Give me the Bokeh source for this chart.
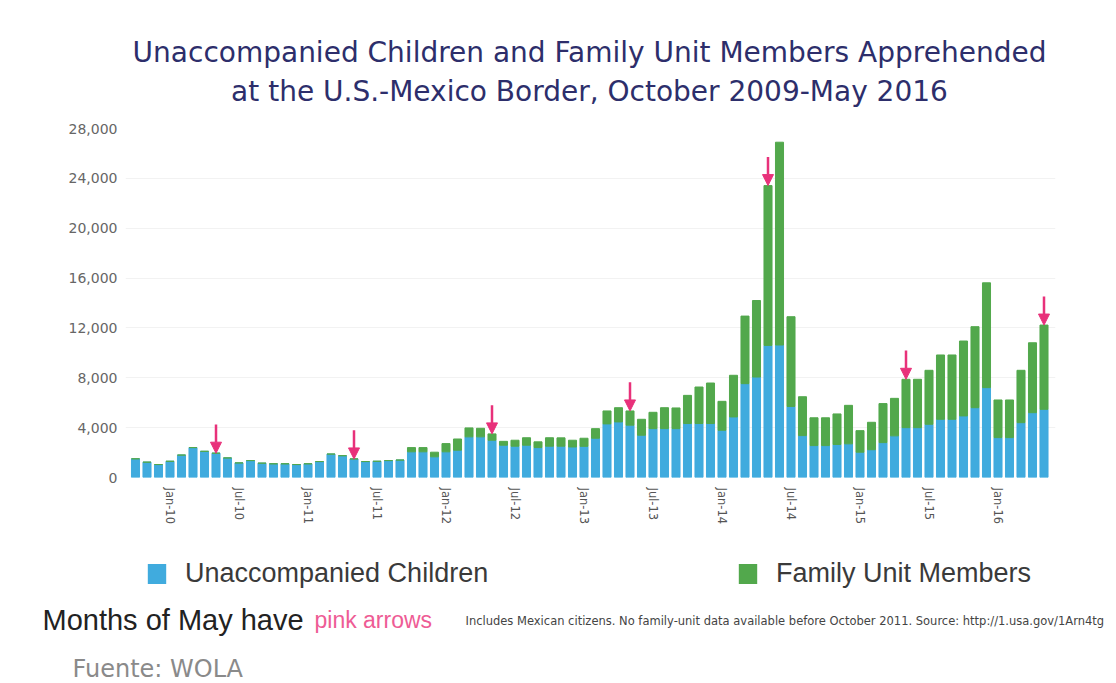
import pandas as pd
from bokeh.plotting import figure
from bokeh.layouts import column, row
from bokeh.models import (ColumnDataSource, Range1d, FixedTicker, NumeralTickFormatter,
                          Label, Legend, LegendItem, Arrow, NormalHead)
from bokeh.embed import file_html
from bokeh.resources import INLINE

# ---------------- data ----------------
months = [d.strftime("%b-%y") for d in pd.date_range("2009-10-01", "2016-05-01", freq="MS")]

unaccompanied_children = [
    1500, 1230, 1040, 1300, 1800, 2400, 2100, 1950, 1570, 1170, 1360, 1150,   # FY2010
    1100, 1100, 1040, 1100, 1280, 1880, 1750, 1490, 1280, 1300, 1360, 1400,   # FY2011
    2060, 2060, 1660, 2060, 2190, 3260, 3260, 2990, 2590, 2510, 2590, 2400,   # FY2012
    2510, 2510, 2450, 2500, 3150, 4300, 4460, 4200, 3390, 3920, 3920, 3920,   # FY2013
    4330, 4330, 4330, 3790, 4860, 7530, 8060, 10600, 10630, 5700, 3360, 2560, # FY2014
    2560, 2650, 2700, 2030, 2230, 2800, 3340, 4000, 4000, 4270, 4670, 4670,   # FY2015
    4940, 5600, 7210, 3200, 3200, 4400, 5200, 5470,                           # FY2016
]
family_unit_members = [
    0, 0, 0, 0, 0, 0, 0, 0, 0, 0, 0, 0,
    0, 0, 0, 0, 0, 0, 0, 0, 0, 0, 0, 0,
    340, 340, 370, 660, 900, 720, 690, 510, 310, 480, 600, 460,
    680, 670, 540, 650, 770, 1040, 1140, 1140, 1280, 1310, 1680, 1660,
    2260, 2930, 3250, 2320, 3340, 5420, 6140, 12820, 16270, 7200, 3120, 2230,
    2230, 2450, 3090, 1730, 2200, 3130, 3010, 3880, 3880, 4330, 5160, 5160,
    6010, 6500, 8410, 3020, 3020, 4200, 5610, 6760,
]
tick_labels = ["Jan-10", "Jul-10", "Jan-11", "Jul-11", "Jan-12", "Jul-12", "Jan-13",
               "Jul-13", "Jan-14", "Jul-14", "Jan-15", "Jul-15", "Jan-16"]
y_ticks = [0, 4000, 8000, 12000, 16000, 20000, 24000, 28000]
series_names = ["Unaccompanied Children", "Family Unit Members"]
title_lines = ["Unaccompanied Children and Family Unit Members Apprehended",
               "at the U.S.-Mexico Border, October 2009-May 2016"]

# ---------------- styles ----------------
BLUE = "#40abde"
GREEN = "#52a84c"
PINK = "#e8317a"
NAVY = "#2d2e6b"
W = 1116


def blank_fig(h):
    f = figure(width=W, height=h, output_backend="svg", toolbar_location=None,
               title_location=None,
               x_range=Range1d(0, W), y_range=Range1d(0, h),
               x_axis_type=None, y_axis_type=None,
               min_border_left=0, min_border_right=0, min_border_top=0, min_border_bottom=0)
    f.outline_line_color = None
    f.xgrid.grid_line_color = None
    f.ygrid.grid_line_color = None
    return f


def add_label(f, text, xs, ys, size, color, font="Liberation Sans", align="left"):
    f.add_layout(Label(x=xs, y=ys, x_units="screen", y_units="screen", text=text,
                       text_font=font, text_font_size=size, text_color=color,
                       text_align=align, text_baseline="alphabetic"))


# ---------------- title block ----------------
top = blank_fig(120)
add_label(top, title_lines[0], 589, 68, "28px", NAVY, font="DejaVu Sans", align="center")
add_label(top, title_lines[1], 589, 29, "28px", NAVY, font="DejaVu Sans", align="center")

# ---------------- chart ----------------
x = list(range(len(months)))
totals = [u + f for u, f in zip(unaccompanied_children, family_unit_members)]
src = ColumnDataSource(dict(x=x, month=months, uac=unaccompanied_children,
                            fam=family_unit_members, total=totals))

p = figure(width=W, height=425, output_backend="svg", toolbar_location=None,
           title_location=None,
           x_range=Range1d(-0.87, 80.0), y_range=Range1d(0, 28000),
           min_border_left=125, min_border_right=61, min_border_top=8,
           min_border_bottom=68)
p.outline_line_color = None
p.xgrid.grid_line_color = None
p.ygrid.grid_line_color = "#f2f2f2"
p.ygrid.ticker = FixedTicker(ticks=y_ticks)

rs = p.vbar_stack(["uac", "fam"], x="x", width=0.7, color=[BLUE, GREEN], source=src)

tick_idx = [months.index(t) for t in tick_labels]
p.xaxis.ticker = FixedTicker(ticks=tick_idx)
p.xaxis.major_label_overrides = {i: months[i] for i in tick_idx}
p.xaxis.major_label_orientation = "vertical"
p.xaxis.axis_line_color = None
p.xaxis.major_tick_line_color = None
p.xaxis.minor_tick_line_color = None
p.xaxis.major_tick_out = 0
p.xaxis.minor_tick_out = 0
p.xaxis.major_label_standoff = 10
p.xaxis.major_label_text_font = "DejaVu Sans"
p.xaxis.major_label_text_font_size = "11.5px"
p.xaxis.major_label_text_color = "#555555"

p.yaxis.ticker = FixedTicker(ticks=y_ticks)
p.yaxis.formatter = NumeralTickFormatter(format="0,0")
p.yaxis.axis_line_color = None
p.yaxis.major_tick_line_color = None
p.yaxis.minor_tick_line_color = None
p.yaxis.major_tick_out = 0
p.yaxis.minor_tick_out = 0
p.yaxis.major_label_standoff = 8
p.yaxis.major_label_text_font = "DejaVu Sans"
p.yaxis.major_label_text_font_size = "14px"
p.yaxis.major_label_text_color = "#666666"

may_idx = [i for i, m in enumerate(months) if m.startswith("May")]
arrow_src = ColumnDataSource(dict(
    x0=[x[i] for i in may_idx], x1=[x[i] for i in may_idx],
    y0=[totals[i] + 2300 for i in may_idx], y1=[totals[i] for i in may_idx]))
p.add_layout(Arrow(end=NormalHead(size=11, fill_color=PINK, line_color=PINK),
                   x_start="x0", y_start="y0", x_end="x1", y_end="y1",
                   line_color=PINK, line_width=2.5, source=arrow_src))

# ---------------- legend & notes ----------------
H_BOT = 138
bot = blank_fig(H_BOT)
# zero-height placeholder bars that only carry the legend swatch styles
sw_src = ColumnDataSource(dict(x=[0], top=[0]))
sw_blue = bot.vbar(x="x", top="top", width=0, fill_color=BLUE, line_color=None, source=sw_src)
sw_green = bot.vbar(x="x", top="top", width=0, fill_color=GREEN, line_color=None, source=sw_src)
for r, name, lx in [(sw_blue, series_names[0], 145), (sw_green, series_names[1], 736)]:
    lg = Legend(items=[LegendItem(label=name, renderers=[r])], location=(lx, 94),
                glyph_width=23, glyph_height=25, label_standoff=17,
                label_text_font="Liberation Sans", label_text_font_size="27px",
                label_text_color="#3a3a3a", padding=0, margin=0, spacing=0,
                border_line_color=None, background_fill_alpha=0)
    bot.add_layout(lg, "center")

add_label(bot, "Months of May have", 42, 64, "29px", "#222222")
add_label(bot, "pink arrows", 314, 64, "23px", "#ee5c95")
add_label(bot, "Includes Mexican citizens. No family-unit data available before October 2011. "
          "Source: http://1.usa.gov/1Arn4tg", 465, 63, "11.5px", "#444444", font="DejaVu Sans")
add_label(bot, "Fuente: WOLA", 72, 15, "24px", "#8a8a8a", font="DejaVu Sans")

layout = column(top, row(p), bot, spacing=0)
open("out.html", "w").write(file_html(layout, INLINE))
